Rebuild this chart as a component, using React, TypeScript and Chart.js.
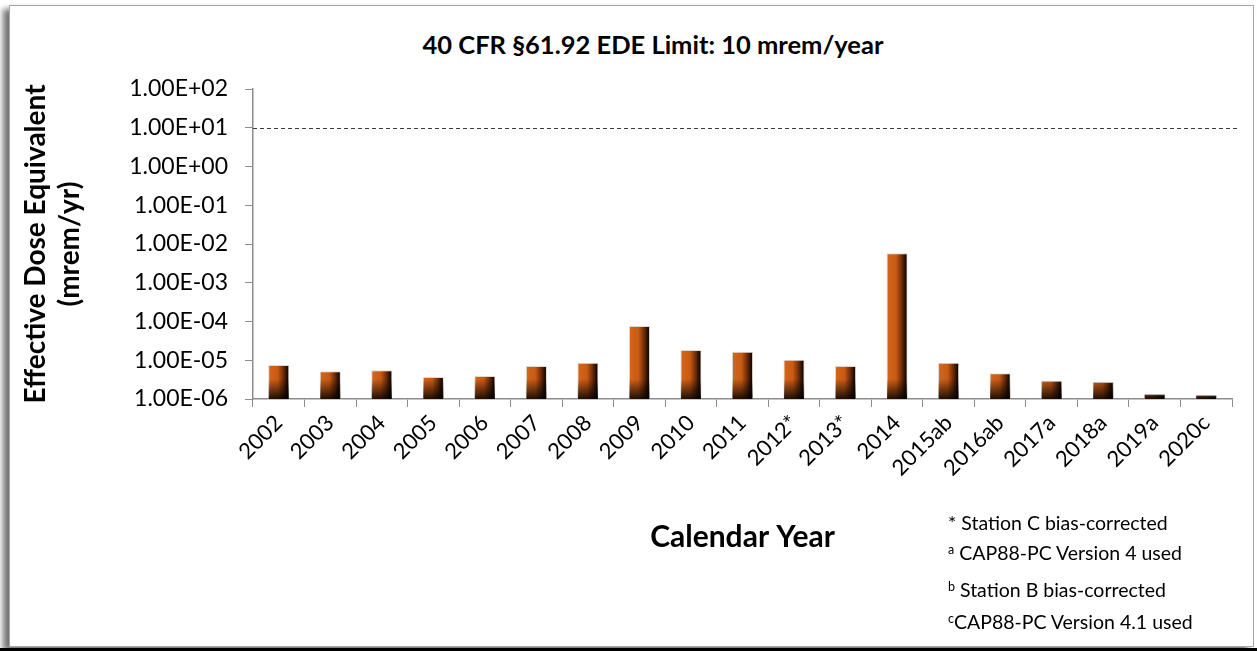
import React, { useEffect, useRef } from "react";
import { Chart, registerables } from "chart.js";

Chart.register(...registerables);

const categories = [
  "2002", "2003", "2004", "2005", "2006", "2007", "2008", "2009", "2010", "2011",
  "2012*", "2013*", "2014", "2015ab", "2016ab", "2017a", "2018a", "2019a", "2020c",
];
const doseValues = [
  7.5e-6, 5.2e-6, 5.5e-6, 3.7e-6, 3.9e-6, 7.1e-6, 8.6e-6, 7.6e-5, 1.84e-5, 1.66e-5,
  1.03e-5, 7.1e-6, 5.75e-3, 8.6e-6, 4.6e-6, 2.95e-6, 2.75e-6, 1.3e-6, 1.23e-6,
];
const yTickValues = [1e-6, 1e-5, 1e-4, 1e-3, 1e-2, 1e-1, 1, 10, 100];
const limitValue = 10;
const chartTitle = "40 CFR §61.92 EDE Limit: 10 mrem/year";
const yAxisTitle = ["Effective Dose Equivalent", "(mrem/yr)"];
const xAxisTitle = "Calendar Year";

const FONT = "Lato, 'Open Sans', sans-serif";
const BAR_PCT = 0.41;
const AXIS_COLOR = "#8c8c8c";
const BASE_ORANGE = "#c85a14";

function formatExp(v: number): string {
  const [m, ex] = v.toExponential(2).split("e");
  const n = parseInt(ex, 10);
  return m + "E" + (n < 0 ? "-" : "+") + String(Math.abs(n)).padStart(2, "0");
}

const limitLinePlugin = {
  id: "limitLine",
  afterDatasetsDraw(chart: any) {
    const { ctx, chartArea, scales } = chart;
    const py = Math.round(scales.y.getPixelForValue(limitValue)) + 0.5;
    if (!isFinite(py)) return;
    ctx.save();
    ctx.setLineDash([4, 3]);
    ctx.strokeStyle = "#3a3a3a";
    ctx.lineWidth = 1;
    ctx.beginPath();
    ctx.moveTo(chartArea.left, py);
    ctx.lineTo(chartArea.right + 8, py);
    ctx.stroke();
    ctx.restore();
  },
};

const barShadePlugin = {
  id: "barShade",
  afterDatasetsDraw(chart: any) {
    const { ctx } = chart;
    const meta = chart.getDatasetMeta(0);
    ctx.save();
    meta.data.forEach((el: any) => {
      const { x, y, base, width } = el.getProps(["x", "y", "base", "width"], true);
      if (![x, y, base, width].every((n) => isFinite(n))) return;
      const h = Math.abs(base - y);
      const shadeH = 20;
      const g = ctx.createLinearGradient(0, base - shadeH, 0, base);
      g.addColorStop(0, "rgba(0,0,0,0)");
      g.addColorStop(1, "rgba(0,0,0,0.85)");
      ctx.fillStyle = g;
      const top = Math.max(Math.min(y, base), base - shadeH);
      ctx.fillRect(x - width / 2 + 0.5, top, width - 1, Math.min(h, shadeH));
    });
    ctx.restore();
  },
};

export default function App() {
  const canvasRef = useRef<HTMLCanvasElement | null>(null);

  useEffect(() => {
    if (!canvasRef.current) return;
    const chart = new Chart(canvasRef.current, {
      type: "bar",
      data: {
        labels: categories,
        datasets: [
          {
            data: doseValues,
            backgroundColor: (c: any) => {
              const ch = c.chart;
              const xs = ch.scales && ch.scales.x;
              if (!xs || c.dataIndex === undefined) return BASE_ORANGE;
              const cx = xs.getPixelForValue(c.dataIndex);
              const hw = ((xs.width / categories.length) * BAR_PCT) / 2;
              if (!isFinite(cx) || !isFinite(hw) || hw <= 0) return BASE_ORANGE;
              const g = ch.ctx.createLinearGradient(cx - hw, 0, cx + hw, 0);
              g.addColorStop(0, "#d4661c");
              g.addColorStop(0.45, "#c85a14");
              g.addColorStop(0.72, "#6e2c08");
              g.addColorStop(0.9, "#1e0c02");
              g.addColorStop(1, "#080200");
              return g;
            },
            borderColor: "#e2d8cf",
            borderWidth: 1,
            borderSkipped: "bottom",
            barPercentage: BAR_PCT,
            categoryPercentage: 1,
          },
        ],
      },
      options: {
        animation: false,
        responsive: false,
        maintainAspectRatio: false,
        layout: { padding: { left: 0, right: 25, top: 89, bottom: 0 } },
        plugins: {
          legend: { display: false },
          tooltip: { enabled: false },
          title: { display: false },
        },
        scales: {
          x: {
            type: "category",
            grid: {
              display: true,
              drawOnChartArea: false,
              drawTicks: true,
              tickLength: 8,
              color: AXIS_COLOR,
              offset: true,
            },
            border: { display: true, color: AXIS_COLOR, width: 1.5 },
            ticks: {
              font: { family: FONT, size: 22 },
              color: "#000",
              minRotation: 45,
              maxRotation: 45,
              padding: 3,
              autoSkip: false,
            },
            title: {
              display: true,
              text: xAxisTitle,
              font: { family: FONT, size: 30, weight: "bold" },
              color: "#000",
              padding: { top: 0, bottom: 96 },
            },
            afterFit: (s: any) => {
              s.height = 252;
            },
          },
          y: {
            type: "logarithmic",
            min: 1e-6,
            max: 100,
            afterBuildTicks: (s: any) => {
              s.ticks = yTickValues.map((v) => ({ value: v }));
            },
            ticks: {
              callback: (v: any) => formatExp(Number(v)),
              font: { family: FONT, size: 23 },
              color: "#000",
              padding: 17,
              autoSkip: false,
            },
            grid: {
              display: true,
              drawOnChartArea: false,
              drawTicks: true,
              tickLength: 8,
              color: AXIS_COLOR,
            },
            border: { display: true, color: AXIS_COLOR, width: 1.5 },
            title: {
              display: true,
              text: yAxisTitle,
              font: { family: FONT, size: 28, weight: "bold", lineHeight: 1.214 },
              color: "#000",
              padding: { top: 19, bottom: 0 },
            },
            afterFit: (s: any) => {
              s.width = 253;
            },
          },
        },
      },
      plugins: [limitLinePlugin, barShadePlugin],
    } as any);
    return () => chart.destroy();
  }, []);

  const noteStyle: React.CSSProperties = {
    position: "absolute",
    left: 948,
    fontFamily: FONT,
    fontSize: 19.5,
    lineHeight: "22px",
    color: "#000",
    whiteSpace: "nowrap",
  };
  const supStyle: React.CSSProperties = {
    fontSize: 12.5,
    verticalAlign: "6px",
    lineHeight: 0,
  };

  return (
    <div
      style={{
        position: "fixed",
        left: 0,
        top: 0,
        width: 1257,
        height: 651,
        background: "#fff",
        overflow: "hidden",
      }}
    >
      <div
        style={{
          position: "absolute",
          left: 9,
          top: 5,
          width: 1245,
          height: 642,
          boxSizing: "border-box",
          border: "1px solid #a6a6a6",
          background: "#fff",
          boxShadow: "-6px 4px 6px rgba(0,0,0,0.55)",
        }}
      />
      <div
        style={{
          position: "absolute",
          left: 0,
          top: 648,
          width: 1257,
          height: 3,
          background: "#000",
        }}
      />
      <div
        style={{
          position: "absolute",
          left: 353,
          top: 28,
          width: 600,
          textAlign: "center",
          fontFamily: FONT,
          fontWeight: "bold",
          fontSize: 25.5,
          lineHeight: "32px",
          color: "#000",
        }}
      >
        {chartTitle}
      </div>
      <canvas
        ref={canvasRef}
        width={1257}
        height={651}
        style={{ position: "absolute", left: 0, top: 0, width: 1257, height: 651 }}
      />
      <div style={{ ...noteStyle, top: 512 }}>* Station C bias-corrected</div>
      <div style={{ ...noteStyle, top: 542 }}>
        <span style={supStyle}>a</span> CAP88-PC Version 4 used
      </div>
      <div style={{ ...noteStyle, top: 579 }}>
        <span style={supStyle}>b</span> Station B bias-corrected
      </div>
      <div style={{ ...noteStyle, top: 611 }}>
        <span style={supStyle}>c</span>CAP88-PC Version 4.1 used
      </div>
    </div>
  );
}
